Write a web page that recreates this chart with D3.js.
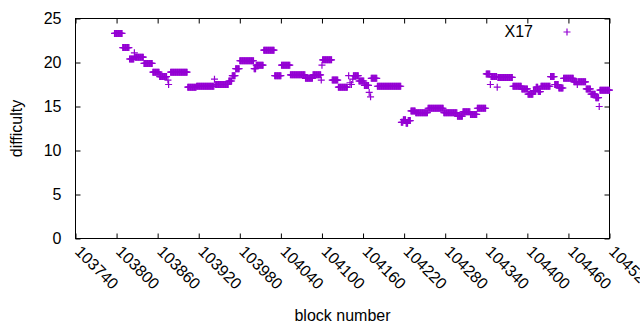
<!DOCTYPE html>
<html>
<head>
<meta charset="utf-8">
<script src="https://cdn.jsdelivr.net/npm/d3@7"></script>
<style>
  body { margin: 0; background: white; }
  text { font-family: "Liberation Sans", Arial, sans-serif; }
</style>
</head>
<body>
<div id="viz-container"></div>
<script>
let w = 640;
let h = 330;

// runs of blocks that share the same difficulty (first block, last block, difficulty)
let runFirst = [103797, 103809, 103819, 103826, 103827, 103840, 103853, 103863, 103875, 103876,
  103879, 103904, 103917, 103943, 103944, 103964, 103969, 103974, 103980, 104001,
  104004, 104015, 104031, 104041, 104054, 104076, 104087, 104099, 104100, 104101,
  104115, 104124, 104139, 104141, 104143, 104145, 104146, 104154, 104162, 104169,
  104171, 104172, 104181, 104216, 104219, 104223, 104226, 104230, 104237, 104255,
  104278, 104298, 104306, 104317, 104327, 104340, 104346, 104347, 104356, 104357,
  104379, 104392, 104401, 104409, 104413, 104416, 104420, 104434, 104440, 104446,
  104453, 104468, 104473, 104474, 104486, 104493, 104500, 104505, 104506];
let runLast = [103808, 103818, 103825, 103826, 103839, 103852, 103862, 103873, 103875, 103876,
  103903, 103916, 103942, 103943, 103963, 103968, 103973, 103979, 104000, 104003,
  104014, 104030, 104040, 104053, 104075, 104086, 104098, 104099, 104100, 104114,
  104123, 104137, 104139, 104141, 104143, 104145, 104153, 104161, 104168, 104169,
  104171, 104180, 104215, 104218, 104222, 104225, 104229, 104236, 104254, 104277,
  104297, 104305, 104316, 104326, 104339, 104345, 104346, 104355, 104356, 104378,
  104391, 104400, 104408, 104412, 104415, 104419, 104433, 104439, 104445, 104452,
  104467, 104472, 104473, 104485, 104492, 104499, 104504, 104505, 104520];
let runDifficulty = [23.3, 21.7, 20.4, 21.1, 20.6, 19.9, 18.9, 18.4, 18.0, 17.5,
  18.9, 17.2, 17.3, 18.1, 17.5, 17.9, 18.5, 19.3, 20.2, 19.3,
  19.7, 21.4, 18.5, 19.7, 18.6, 18.2, 18.6, 18.0, 19.7, 20.3,
  18.0, 17.2, 18.5, 17.7, 17.5, 18.1, 18.5, 17.9, 17.4, 16.6,
  16.1, 18.2, 17.3, 13.2, 13.5, 13.1, 13.4, 14.5, 14.3, 14.8,
  14.3, 13.9, 14.4, 14.1, 14.8, 18.7, 17.5, 18.4, 17.2, 18.3,
  17.3, 17.0, 16.4, 16.8, 17.2, 16.7, 17.3, 18.4, 17.5, 17.1,
  18.2, 17.8, 17.5, 17.8, 17.0, 16.4, 16.0, 15.0, 16.85];

let xTicks = [103740, 103800, 103860, 103920, 103980, 104040, 104100, 104160,
  104220, 104280, 104340, 104400, 104460, 104520];
let yTicks = [0, 5, 10, 15, 20, 25];
let seriesName = "X17";

let color = "#9400d3";
let fontSize = 16;

let plotLeft = 75.5, plotRight = 609.5, plotTop = 18.5, plotBottom = 238.5;

let viz = d3.select("#viz-container")
  .append("svg")
    .attr("width", w)
    .attr("height", h)
    .style("background-color", "white")
;

let xScale = d3.scaleLinear().domain([103740, 104520]).range([plotLeft, plotRight]);
let yScale = d3.scaleLinear().domain([0, 25]).range([plotBottom, plotTop]);

// one point per block
let points = [];
runFirst.forEach(function(first, i){
  for (let b = first; b <= runLast[i]; b++){
    points.push({block: b, difficulty: runDifficulty[i]});
  }
});

// axes with inward ticks on all four sides
let xAxis = viz.append("g")
  .attr("transform", "translate(0," + plotBottom + ")")
  .call(d3.axisBottom(xScale).tickValues(xTicks).tickSize(-5).tickFormat(d3.format("d")));
xAxis.selectAll("text")
  .attr("font-size", fontSize)
  .attr("fill", "black")
  .attr("text-anchor", "start")
  .attr("y", 0)
  .attr("dy", 0)
  .attr("transform", "translate(-2,14) rotate(45)");

viz.append("g")
  .attr("transform", "translate(0," + plotTop + ")")
  .call(d3.axisTop(xScale).tickValues(xTicks).tickSize(-5).tickFormat(""));

let yAxis = viz.append("g")
  .attr("transform", "translate(" + plotLeft + ",0)")
  .call(d3.axisLeft(yScale).tickValues(yTicks).tickSize(-5).tickPadding(14));
yAxis.selectAll("text")
  .attr("font-size", fontSize)
  .attr("fill", "black");

viz.append("g")
  .attr("transform", "translate(" + plotRight + ",0)")
  .call(d3.axisRight(yScale).tickValues(yTicks).tickSize(-5).tickFormat(""));

viz.selectAll(".domain").remove();
viz.selectAll(".tick line").attr("stroke", "black");

viz.append("rect")
  .attr("x", plotLeft)
  .attr("y", plotTop)
  .attr("width", plotRight - plotLeft)
  .attr("height", plotBottom - plotTop)
  .attr("fill", "none")
  .attr("stroke", "black")
  .attr("stroke-width", 1);

// plus marks
function plusPath(cx, cy){
  let s = 3.5;
  return "M" + (cx - s) + "," + cy + "H" + (cx + s) + "M" + cx + "," + (cy - s) + "V" + (cy + s);
}

viz.append("g").selectAll("path").data(points).enter()
  .append("path")
    .attr("d", function(d){ return plusPath(xScale(d.block), yScale(d.difficulty)); })
    .attr("stroke", color)
    .attr("stroke-width", 1.2)
    .attr("fill", "none");

// legend
viz.append("text")
  .attr("x", 533)
  .attr("y", 37)
  .attr("text-anchor", "end")
  .attr("font-size", fontSize)
  .text(seriesName);
viz.append("path")
  .attr("d", plusPath(567, 32))
  .attr("stroke", color)
  .attr("stroke-width", 1.2);

// axis titles
viz.append("text")
  .attr("x", (plotLeft + plotRight) / 2)
  .attr("y", 321)
  .attr("text-anchor", "middle")
  .attr("font-size", fontSize)
  .text("block number");
viz.append("text")
  .attr("transform", "translate(22," + (plotTop + plotBottom) / 2 + ") rotate(-90)")
  .attr("text-anchor", "middle")
  .attr("font-size", fontSize)
  .text("difficulty");
</script>
</body>
</html>
